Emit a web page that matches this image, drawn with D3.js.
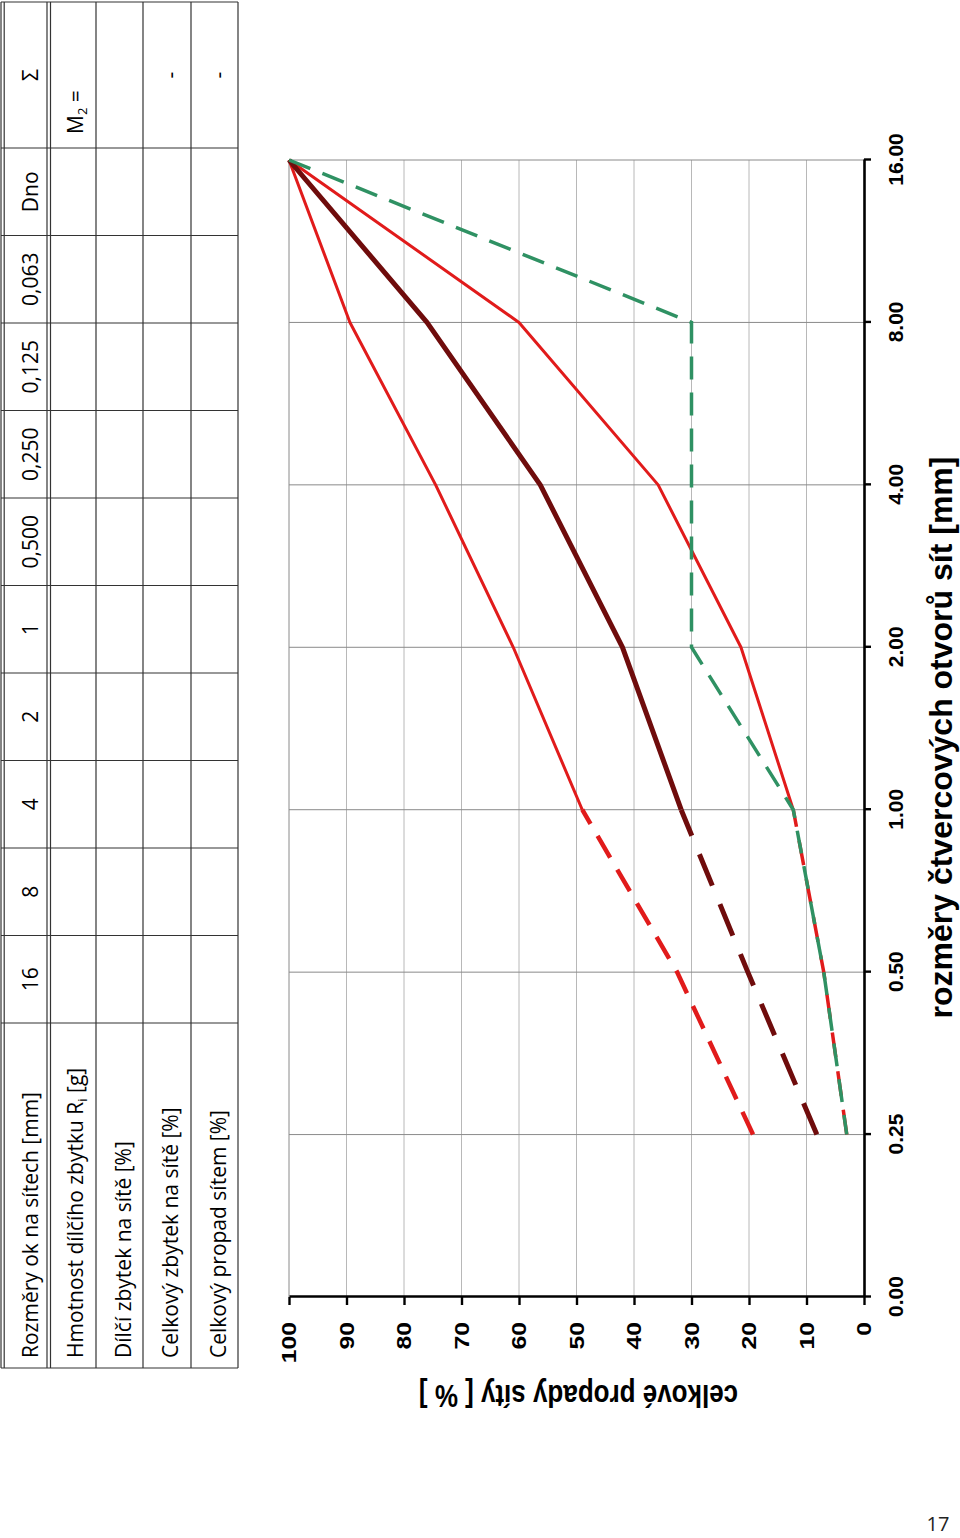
<!DOCTYPE html>
<html><head><meta charset="utf-8">
<script src="https://cdn.jsdelivr.net/npm/d3@7"></script>
<style>body{margin:0;background:#fff}svg{display:block}</style>
</head><body>
<svg id="page" width="960" height="1538"></svg>
<script>
// ---------- data ----------
const sieveSizes = ["0.00","0.25","0.50","1.00","2.00","4.00","8.00","16.00"];
const percentTicks = [0,10,20,30,40,50,60,70,80,90,100];
const lowerLimit  = [null, 19.3, 32.5, 49, 61, 74.5, 89.4, 100];   // left red curve
const middleCurve = [null, 8.2, 20.2, 31.8, 42, 56.3, 76, 100];    // dark red curve
const upperLimit  = [null, 3, 7, 12.3, 21.4, 35.8, 60, 100];       // right red curve
const sampleCurve = [null, 3, 7, 12.3, 30, 30, 30, 100];           // green dashed
const dashedUpTo = "1.00";
const tableRowLabels = ["Rozměry ok na sítech [mm]", "Hmotnost dílčího zbytku R|i [g]",
  "Dílčí zbytek na sítě [%]", "Celkový zbytek na sítě [%]", "Celkový propad sítem [%]"];
const tableColumns = ["16","8","4","2","1","0,500","0,250","0,125","0,063","Dno"];
const sumColumn = ["Σ", "M|2 =", "", "-", "-"];
const xTitle = "rozměry čtvercových otvorů sít [mm]";
const yTitle = "celkové propady síty [ % ]";
const pageNumber = "17";

// ---------- setup ----------
const svg = d3.select("#page");
const g = svg.append("g").attr("transform","translate(0,1538) rotate(-90)"); // page is rotated

const chartFont = "'Liberation Sans', Arial, sans-serif";
const tableFont = "'Open Sans', 'Noto Sans', sans-serif";
const tSize = 21;

// ---------- table ----------
const labelW = 345, colW = 87.5, sumW = 146, tX0 = 170;
const colEdges = [tX0, tX0+labelW];
tableColumns.forEach((c,i)=>colEdges.push(tX0+labelW+colW*(i+1)));
colEdges.push(colEdges[colEdges.length-1]+sumW);
const baselines = [38, 83, 130.5, 178, 225.5];
const tb = g.append("g");
const lineColor = "#333";
[1, 4.2, 47, 50.5, 96, 143, 191, 238].forEach(v=>{
  tb.append("line").attr("x1",colEdges[0]).attr("x2",colEdges[colEdges.length-1])
    .attr("y1",v).attr("y2",v).attr("stroke",lineColor).attr("stroke-width",1.2);
});
colEdges.forEach(u=>{
  tb.append("line").attr("x1",u).attr("x2",u).attr("y1",1).attr("y2",238)
    .attr("stroke",lineColor).attr("stroke-width",1.2);
});
function addRich(sel, str, size){
  const parts = str.split("|");
  sel.append("tspan").text(parts[0]);
  if(parts.length>1){
    sel.append("tspan").attr("font-size",size*0.62).attr("dy",size*0.2).text(parts[1][0]);
    sel.append("tspan").attr("dy",-size*0.2).text(parts[1].slice(1));
  }
}
tableRowLabels.forEach((t,i)=>{
  const tx = tb.append("text").attr("x",tX0+10).attr("y",baselines[i])
    .attr("font-family",tableFont).attr("font-size",tSize).attr("fill","#000");
  addRich(tx,t,tSize);
});
tableColumns.forEach((c,i)=>{
  tb.append("text").attr("x",(colEdges[i+1]+colEdges[i+2])/2).attr("y",baselines[0])
    .attr("text-anchor","middle").attr("font-family",tableFont).attr("font-size",tSize)
    .attr("fill","#000").text(c);
});
sumColumn.forEach((c,i)=>{
  if(!c) return;
  const u0 = colEdges[colEdges.length-2], u1 = colEdges[colEdges.length-1];
  const tx = tb.append("text").attr("y",baselines[i])
    .attr("font-family",tableFont).attr("font-size",tSize).attr("fill","#000");
  if(c.indexOf("|")>=0){ tx.attr("x",u0+14); addRich(tx,c,tSize); }
  else { tx.attr("x",(u0+u1)/2).attr("text-anchor","middle").text(c); }
});

// ---------- chart ----------
const x = d3.scalePoint().domain(sieveSizes).range([241,1378]);
const y = d3.scaleLinear().domain([0,100]).range([864,289]);
const ch = g.append("g");

// gridlines
ch.append("g").selectAll("line").data(percentTicks.filter(t=>t>0)).join("line")
  .attr("x1",x.range()[0]).attr("x2",x.range()[1])
  .attr("y1",d=>y(d)).attr("y2",d=>y(d))
  .attr("stroke",d=>d===100?"#8a8a8a":"#b8b8b8").attr("stroke-width",1);
ch.append("g").selectAll("line").data(sieveSizes.slice(1)).join("line")
  .attr("x1",d=>x(d)).attr("x2",d=>x(d))
  .attr("y1",y(100)).attr("y2",y(0))
  .attr("stroke","#8a8a8a").attr("stroke-width",1);

// series
const line = d3.line().defined(d=>d.v!=null).x(d=>x(d.s)).y(d=>y(d.v));
const cut = sieveSizes.indexOf(dashedUpTo);
function pts(vals){ return sieveSizes.map((s,i)=>({s, v: vals[i]})); }
const series = [
  {vals: upperLimit,  color:"#e11b1b", w:3,   wd:3.5, dash:"25,14"},
  {vals: lowerLimit,  color:"#e11b1b", w:3,   wd:4.5, dash:"25,14"},
  {vals: middleCurve, color:"#6f0c0c", w:5,   wd:5,   dash:"34,20"},
];
series.forEach(s=>{
  const p = pts(s.vals);
  ch.append("path").attr("d",line(p.slice(0,cut+1))).attr("fill","none")
    .attr("stroke",s.color).attr("stroke-width",s.wd).attr("stroke-dasharray",s.dash);
  ch.append("path").attr("d",line(p.slice(cut))).attr("fill","none")
    .attr("stroke",s.color).attr("stroke-width",s.w).attr("stroke-linejoin","round");
});
ch.append("path").attr("d",line(pts(sampleCurve).slice().reverse())).attr("fill","none")
  .attr("stroke","#2f9163").attr("stroke-width",3.5).attr("stroke-dasharray","23,13");

// axes
const xAxis = ch.append("g").attr("transform",`translate(0,${y(0)})`)
  .call(d3.axisBottom(x).tickSize(7).tickSizeOuter(0).tickPadding(17));
const yAxis = ch.append("g").attr("transform",`translate(${x.range()[0]},0)`)
  .call(d3.axisLeft(y).tickValues(percentTicks).tickFormat(d3.format("d")).tickSize(8).tickSizeOuter(0).tickPadding(18));
[xAxis,yAxis].forEach(a=>{
  a.select(".domain").attr("stroke","#000").attr("stroke-width",2.6);
  a.selectAll(".tick line").attr("stroke","#000").attr("stroke-width",2.4);
  a.selectAll(".tick text").attr("font-family",chartFont).attr("font-weight","bold")
    .attr("font-size",21).attr("fill","#000");
});
yAxis.selectAll(".tick text").attr("x",0).attr("transform","translate(-25,0) scale(1.18,1)");

// axis titles
ch.append("text").attr("x",(x.range()[0]+x.range()[1])/2-9).attr("y",952)
  .attr("text-anchor","middle").attr("font-family",chartFont).attr("font-weight","bold")
  .attr("font-size",32).attr("fill","#000").text(xTitle);
ch.append("text").attr("text-anchor","middle")
  .attr("transform",`translate(153,${(y(0)+y(100))/2+2}) scale(1.2,1) rotate(-90)`)
  .attr("font-family",chartFont).attr("font-weight","bold")
  .attr("font-size",26).attr("fill","#000").text(yTitle);

// page number (not rotated)
svg.append("text").attr("x",938).attr("y",1531).attr("text-anchor","middle")
  .attr("font-family",tableFont).attr("font-size",20).attr("fill","#222").text(pageNumber);
</script>
</body></html>
